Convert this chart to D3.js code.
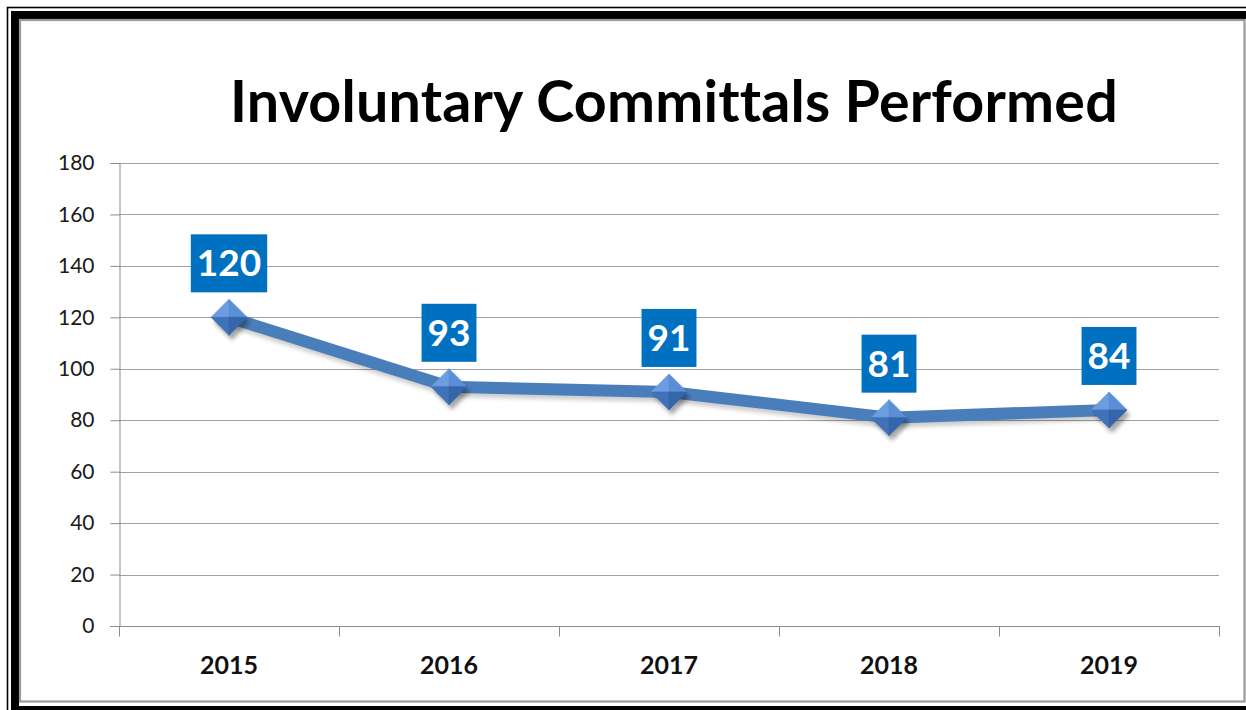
<!DOCTYPE html>
<html>
<head>
<meta charset="utf-8">
<script src="https://cdn.jsdelivr.net/npm/d3@7"></script>
<style>
  html, body { margin: 0; padding: 0; background: #fff; }
  svg { display: block; }
  text { font-family: Lato, "Open Sans", sans-serif; font-variant-ligatures: none; font-feature-settings: "liga" 0, "dlig" 0, "calt" 0; }
</style>
</head>
<body>
<svg id="chart" width="1246" height="710"></svg>
<script>
// Involuntary committals per year
const years = ["2015", "2016", "2017", "2018", "2019"];
const committals = [120, 93, 91, 81, 84];
const yTicks = [0, 20, 40, 60, 80, 100, 120, 140, 160, 180];
const titleText = "Involuntary Committals Performed";

const W = 1246, H = 710;
const svg = d3.select("#chart");

// Frame: thin outer rule, heavy black rule, grey inner rule
svg.append("rect").attr("x", 7.5).attr("y", 7.5).attr("width", W + 20).attr("height", H + 20)
  .attr("fill", "none").attr("stroke", "#000").attr("stroke-width", 1.6);
svg.append("rect").attr("x", 15).attr("y", 15).attr("width", W + 20).attr("height", 695)
  .attr("fill", "none").attr("stroke", "#000").attr("stroke-width", 8);
svg.append("rect").attr("x", 20).attr("y", 20).attr("width", 1224.5).attr("height", 681.5)
  .attr("fill", "#fff").attr("stroke", "#9a9a9a").attr("stroke-width", 2.2);

const plot = { left: 119, right: 1219, top: 163, bottom: 626 };

const x = d3.scaleBand().domain(years).range([plot.left, plot.right]);
const y = d3.scaleLinear().domain([0, 180]).range([plot.bottom, plot.top]);

const defs = svg.append("defs");
const blur = defs.append("filter").attr("id", "soft").attr("x", "-50%").attr("y", "-50%")
  .attr("width", "200%").attr("height", "200%");
blur.append("feGaussianBlur").attr("stdDeviation", 2.2);

// Horizontal gridlines
svg.append("g").selectAll("line").data(yTicks.filter(t => t > 0)).join("line")
  .attr("x1", plot.left).attr("x2", plot.right)
  .attr("y1", d => Math.round(y(d)) + 0.5).attr("y2", d => Math.round(y(d)) + 0.5)
  .attr("stroke", "#a0a0a0").attr("stroke-width", 1);

// Y axis
const yAxis = svg.append("g").attr("transform", `translate(${plot.left + 0.5},0)`)
  .call(d3.axisLeft(y).tickValues(yTicks).tickSize(9).tickPadding(16).tickFormat(d3.format("d")));
yAxis.select(".domain").attr("stroke", "#8c8c8c");
yAxis.selectAll(".tick line").attr("stroke", "#8c8c8c");
yAxis.selectAll(".tick text").attr("font-size", 21).attr("fill", "#1a1a1a")
  .style("font-family", "Lato, sans-serif");

// X axis: line, category boundary ticks, labels centred in each band
const xAxis = svg.append("g").attr("transform", `translate(0,${Math.round(plot.bottom) + 0.5})`)
  .call(d3.axisBottom(x).tickSize(0).tickPadding(30));
xAxis.select(".domain").attr("stroke", "#8c8c8c").attr("d", `M${plot.left},0H${plot.right + 1}`);
xAxis.selectAll(".tick text").attr("font-size", 25).attr("font-weight", 700).attr("fill", "#111")
  .style("font-family", "Lato, sans-serif");
const bounds = years.map(d => x(d)).concat([x(years[years.length - 1]) + x.bandwidth()]);
xAxis.append("g").selectAll("line").data(bounds).join("line")
  .attr("x1", d => Math.round(d) + 0.5).attr("x2", d => Math.round(d) + 0.5)
  .attr("y1", 0).attr("y2", 10).attr("stroke", "#8c8c8c");

// Series line with a soft shadow
const pts = years.map((yr, i) => [x(yr) + x.bandwidth() / 2, y(committals[i])]);
const lineGen = d3.line();
svg.append("path").attr("d", lineGen(pts.map(p => [p[0] + 2, p[1] + 4])))
  .attr("fill", "none").attr("stroke", "rgba(0,0,0,0.2)").attr("stroke-width", 12)
  .attr("filter", "url(#soft)");
svg.append("path").attr("d", lineGen(pts))
  .attr("fill", "none").attr("stroke", "#4a7ebb").attr("stroke-width", 12)
  .attr("stroke-linejoin", "round");

// Bevelled diamond markers
const r = 18;
const markers = svg.append("g").selectAll("g").data(pts).join("g")
  .attr("transform", d => `translate(${d[0]},${d[1]})`);
markers.append("path")
  .attr("d", `M0,${-r}L${r},0L0,${r}L${-r},0Z`)
  .attr("transform", "translate(3,5)")
  .attr("fill", "rgba(0,0,0,0.35)").attr("filter", "url(#soft)");
const facets = [
  { d: `M0,${-r}L0,0L${-r},0Z`, c: "#6b9de0" },
  { d: `M0,${-r}L${r},0L0,0Z`, c: "#5a8ed6" },
  { d: `M${-r},0L0,0L0,${r}Z`, c: "#3f72b9" },
  { d: `M0,0L${r},0L0,${r}Z`, c: "#3565aa" }
];
facets.forEach(f => {
  markers.append("path").attr("d", f.d).attr("fill", f.c)
    .attr("stroke", f.c).attr("stroke-width", 0.6);
});

// Value labels in blue boxes above each point
const labelGap = 25, boxH = 58, pad = 6;
const labels = svg.append("g").selectAll("g").data(committals).join("g");
labels.each(function (v, i) {
  const g = d3.select(this);
  const cx = pts[i][0];
  const bottom = y(v) - labelGap;
  const t = g.append("text").text(v)
    .attr("x", cx).attr("y", bottom - boxH / 2 + 13)
    .attr("text-anchor", "middle").attr("font-size", 37).attr("font-weight", 700)
    .attr("fill", "#fff");
  const tw = t.node().getComputedTextLength();
  g.insert("rect", "text")
    .attr("x", cx - tw / 2 - pad).attr("y", bottom - boxH)
    .attr("width", tw + 2 * pad).attr("height", boxH)
    .attr("fill", "#0070c0");
});

// Title, sized to span its measured width; slight tracking keeps "tt" as two glyphs
const title = svg.append("text").text(titleText)
  .attr("x", 674).attr("y", 122).attr("text-anchor", "middle")
  .attr("font-weight", 700).attr("font-size", 56).attr("fill", "#000")
  .attr("letter-spacing", "0.2px");
const tw = title.node().getComputedTextLength();
title.attr("font-size", 56 * 888 / tw);
</script>
</body>
</html>
